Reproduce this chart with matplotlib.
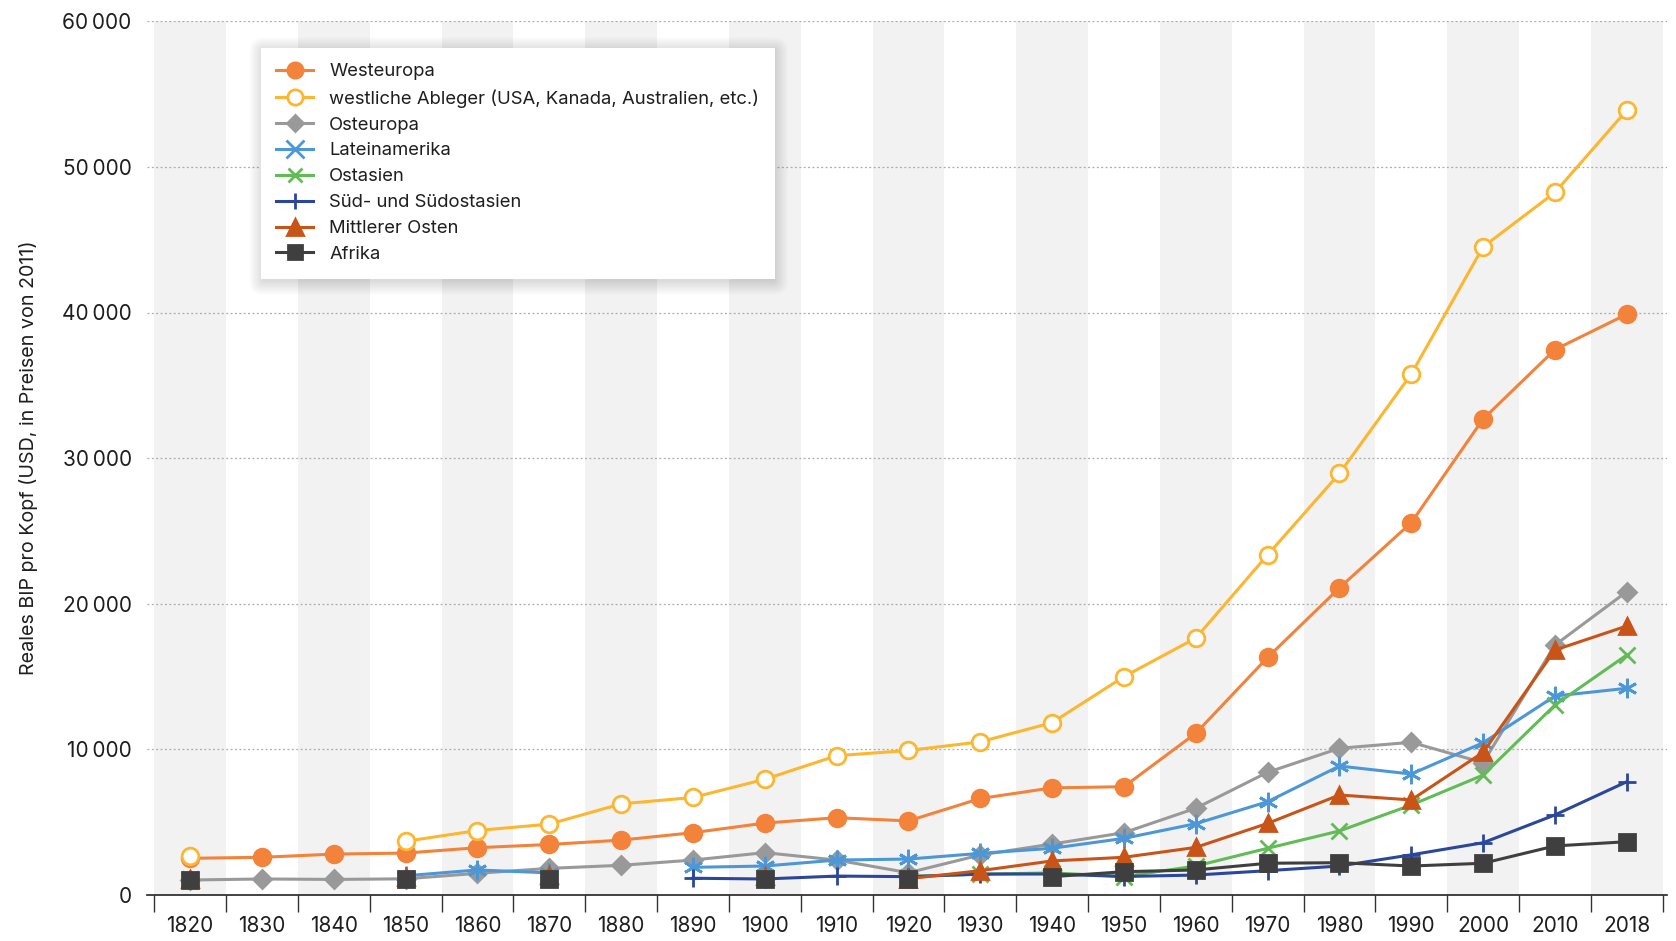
import numpy as np
import matplotlib
matplotlib.use("Agg")
import matplotlib.pyplot as plt
from matplotlib.lines import Line2D
from matplotlib.patches import FancyBboxPatch
from matplotlib.transforms import IdentityTransform

plt.rcParams['font.family'] = ['Inter', 'DejaVu Sans']

# -------------------------------
# Data
# -------------------------------
years = ['1820', '1830', '1840', '1850', '1860', '1870', '1880', '1890', '1900', '1910', '1920',
         '1930', '1940', '1950', '1960', '1970', '1980', '1990', '2000', '2010', '2018']
nan = np.nan

westeuropa = [2500, 2570, 2790, 2860, 3230, 3450, 3750, 4260, 4920, 5290, 5070,
              6610, 7340, 7420, 11090, 16300, 21080, 25560, 32680, 37450, 39880]
ableger = [2640, nan, nan, 3670, 4410, 4850, 6240, 6680, 7930, 9550, 9910,
           10500, 11820, 14980, 17630, 23350, 28940, 35770, 44510, 48250, 53900]
osteuropa = [1010, 1080, 1050, 1090, 1470, 1810, 2020, 2380, 2890, 2380, 1510,
             2730, 3480, 4260, 5940, 8410, 10060, 10470, 9070, 17150, 20820]
lateinamerika = [nan, nan, nan, 1300, 1700, 1500, nan, 1880, 1970, 2380, 2450,
                 2840, 3190, 3870, 4880, 6390, 8840, 8290, 10440, 13650, 14180]
ostasien = [1100, nan, nan, 1100, nan, 1150, nan, nan, 1250, nan, 1250,
            1400, 1500, 1250, 1970, 3190, 4380, 6160, 8220, 13030, 16470]
suedasien = [nan, nan, nan, nan, nan, nan, nan, 1130, 1080, 1280, 1240,
             1420, 1420, 1250, 1350, 1650, 1970, 2740, 3570, 5480, 7760]
mittlerer_osten = [1100, nan, nan, 1200, nan, 1350, nan, nan, 1300, nan, 1100,
                   1650, 2320, 2570, 3250, 4900, 6850, 6510, 9780, 16810, 18460]
afrika = [1030, nan, nan, 1080, nan, 1100, nan, nan, 1100, nan, 1100,
          nan, 1240, 1580, 1700, 2160, 2200, 1970, 2160, 3350, 3640]

series = [
    ("Westeuropa", westeuropa, '#F3823B', 'o', 12, '#F3823B', '#F3823B', 'o'),
    ("westliche Ableger (USA, Kanada, Australien, etc.)", ableger, '#FDB62F', 'o', 12, 'white', '#FDB62F', 'o'),
    ("Osteuropa", osteuropa, '#999999', 'D', 9, '#999999', '#999999', 'D'),
    ("Lateinamerika", lateinamerika, '#4C97D8', (6, 2, 0), 14, '#4C97D8', '#4C97D8', 'x'),
    ("Ostasien", ostasien, '#62BC55', 'x', 11, '#62BC55', '#62BC55', 'x'),
    ("Süd- und Südostasien", suedasien, '#2B479C', '+', 13, '#2B479C', '#2B479C', '+'),
    ("Mittlerer Osten", mittlerer_osten, '#C85418', '^', 12, '#C85418', '#C85418', '^'),
    ("Afrika", afrika, '#3F3F3F', 's', 11, '#3F3F3F', '#3F3F3F', 's'),
]

# -------------------------------
# Figure
# -------------------------------
fig = plt.figure(figsize=(16.76, 9.41), dpi=100)
ax = fig.add_axes([147 / 1676, 1 - 894.7 / 941, 1520 / 1676, 873.3 / 941])

x = np.arange(len(years))

# alternating column bands
for i in x:
    if i % 2 == 0:
        ax.axvspan(i - 0.5, i + 0.5, color='#F2F2F2', lw=0, zorder=0)

# dotted gridlines
for v in range(10000, 60001, 10000):
    ax.axhline(v, color='#AAAAAA', lw=0.9, ls=(0, (1.5, 2)), zorder=1)

handles = []
for k, (name, vals, col, mk, ms, mfc, mec, lmk) in enumerate(series):
    ax.plot(x, vals, color=col, lw=2.2, marker=mk, markersize=ms,
            markerfacecolor=mfc, markeredgecolor=mec, markeredgewidth=2,
            zorder=3 + k * 0.1)
    handles.append(Line2D([], [], color=col, lw=2.2, marker=lmk, markersize=ms - 1,
                          markerfacecolor=mfc, markeredgecolor=mec, markeredgewidth=2,
                          label=name))

ax.set_xlim(-0.6, 20.56)
ax.set_ylim(0, 60000)

ax.set_xticks(x)
ax.set_xticklabels(years)
ax.set_xticks(np.arange(-0.5, 21, 1), minor=True)
ax.tick_params(axis='x', which='major', length=0, pad=15, labelsize=15, colors='#1E1E1E')
ax.tick_params(axis='x', which='minor', length=12, width=1, color='#333333', direction='out')

ax.set_yticks(range(0, 60001, 10000))
ax.set_yticklabels([f"{v:,}".replace(",", "\u2009") for v in range(0, 60001, 10000)])
ax.tick_params(axis='y', length=0, pad=11, labelsize=15, colors='#1E1E1E')

for s in ['top', 'right', 'left']:
    ax.spines[s].set_visible(False)
ax.spines['bottom'].set_color('#222222')
ax.spines['bottom'].set_linewidth(1.2)

fig.text(29 / 1676, 1 - 458 / 941, "Reales BIP pro Kopf (USD, in Preisen von 2011)",
         rotation=90, ha='center', va='center', fontsize=14.2, color='#1E1E1E')

leg = ax.legend(handles=handles, loc='upper left', bbox_to_anchor=(0.0748, 0.97),
                borderaxespad=0, frameon=True, fancybox=False, fontsize=13.3,
                handlelength=2.0, handletextpad=0.85, labelspacing=0.48,
                borderpad=0.85)
for t in leg.get_texts():
    t.set_color('#1E1E1E')
leg.get_frame().set_edgecolor('none')
leg.get_frame().set_facecolor('white')
leg.get_frame().set_alpha(1)
leg.set_zorder(10)

# soft shadow behind legend
fig.canvas.draw()
bb = leg.get_window_extent()
for j in range(12):
    grow = j * 1.2
    ax.add_patch(FancyBboxPatch((bb.x0 - grow + 2, bb.y0 - grow - 3), bb.width + 2 * grow - 2,
                                bb.height + 2 * grow, boxstyle="round,pad=0,rounding_size=%g" % (grow + 1),
                                transform=IdentityTransform(), facecolor='black',
                                edgecolor='none', alpha=0.012, zorder=9))

fig.savefig("out.png", dpi=100)
